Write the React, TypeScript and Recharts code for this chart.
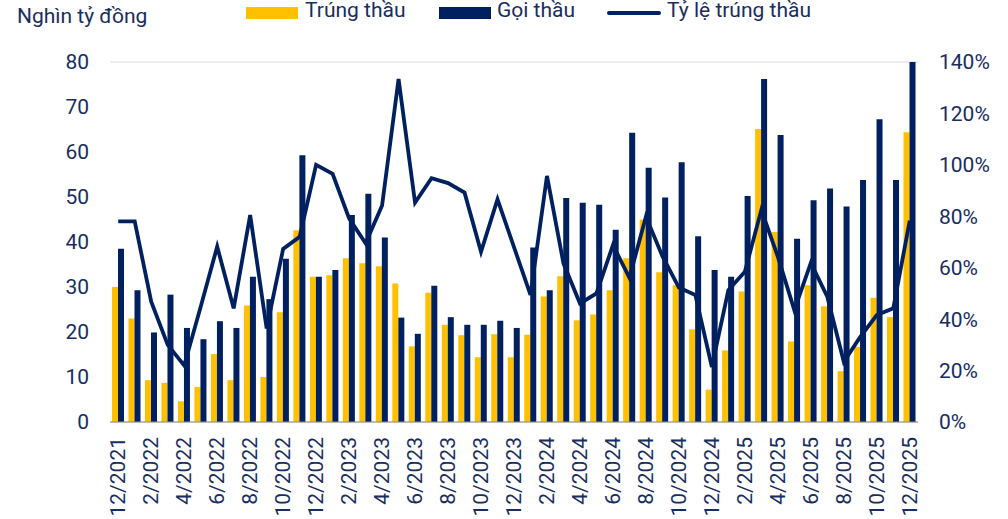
import React from "react"
import {
  ComposedChart,
  Bar,
  Line,
  XAxis,
  YAxis,
  CartesianGrid,
} from "recharts"

const months = [
  "12/2021",
  "1/2022", "2/2022", "3/2022", "4/2022", "5/2022", "6/2022",
  "7/2022", "8/2022", "9/2022", "10/2022", "11/2022", "12/2022",
  "1/2023", "2/2023", "3/2023", "4/2023", "5/2023", "6/2023",
  "7/2023", "8/2023", "9/2023", "10/2023", "11/2023", "12/2023",
  "1/2024", "2/2024", "3/2024", "4/2024", "5/2024", "6/2024",
  "7/2024", "8/2024", "9/2024", "10/2024", "11/2024", "12/2024",
  "1/2025", "2/2025", "3/2025", "4/2025", "5/2025", "6/2025",
  "7/2025", "8/2025", "9/2025", "10/2025", "11/2025", "12/2025",
]

// Trúng thầu (nghìn tỷ đồng)
const trungThau = [
  30.0, 23.0, 9.3, 8.7, 4.6, 7.8, 15.1, 9.3, 25.9, 10.0, 24.4, 42.6, 32.3,
  32.6, 36.4, 35.3, 34.6, 30.8, 16.8, 28.7, 21.6, 19.3, 14.4, 19.5, 14.4,
  19.4, 27.9, 32.4, 22.6, 23.9, 29.3, 36.4, 45.0, 33.3, 30.4, 20.6, 7.2,
  15.9, 29.0, 65.1, 42.2, 17.9, 30.4, 25.7, 11.3, 16.7, 27.6, 23.3, 64.4,
]

// Gọi thầu (nghìn tỷ đồng)
const goiThau = [
  38.5, 29.3, 19.9, 28.3, 20.9, 18.4, 22.4, 20.9, 32.3, 27.3, 36.3, 59.3, 32.3,
  33.8, 46.0, 50.7, 41.0, 23.2, 19.6, 30.3, 23.3, 21.6, 21.6, 22.5, 20.9,
  38.8, 29.3, 49.8, 48.7, 48.3, 42.7, 64.3, 56.5, 49.9, 57.7, 41.3, 33.8,
  32.3, 50.2, 76.2, 63.8, 40.7, 49.3, 51.9, 47.9, 53.8, 67.3, 53.8, 82.0,
]

// Tỷ lệ trúng thầu (%)
const tyLe = [
  78, 78, 46.8, 30, 22, 44.8, 68.2, 44.2, 80.5, 36.4, 67.3, 72, 100,
  96.5, 79.2, 69.5, 84.2, 133.4, 85.3, 94.8, 92.9, 89.2, 66.2, 86.6, 68,
  49.4, 95.7, 61.7, 46.1, 50, 68.8, 56.1, 79.9, 64.5, 52.3, 49.4, 21.4,
  51.3, 58.4, 82.5, 64.3, 43.5, 61.9, 48.7, 23.4, 33.1, 41.6, 44.2, 78.3,
]

const leftTicks = [0, 10, 20, 30, 40, 50, 60, 70, 80]
const rightTicks = [0, 20, 40, 60, 80, 100, 120, 140]

const data = months.map((m, i) => ({
  month: m,
  trung: trungThau[i],
  goi: goiThau[i],
  tyle: tyLe[i],
}))

const YELLOW = "#FFC000"
const NAVY = "#002060"
const TEXT = "#182d60"
const FONT = "Roboto, sans-serif"
const FS = 21

function MonthTick(props: any) {
  const { x, y, payload } = props
  return (
    <text
      x={x}
      y={y}
      transform={`rotate(-90, ${x}, ${y})`}
      textAnchor="end"
      dominantBaseline="central"
      fill={TEXT}
      fontSize={FS}
      fontFamily={FONT}
    >
      {payload.value}
    </text>
  )
}

export default function App() {
  return (
    <div style={{ position: "absolute", left: 0, top: 0, width: 1008, height: 519, background: "#fff", fontFamily: FONT, color: TEXT }}>
      <div style={{ position: "absolute", left: 17, top: 4, fontSize: FS }}>Nghìn tỷ đồng</div>

      {/* legend */}
      <div style={{ position: "absolute", left: 246, top: 7, width: 52, height: 12, background: YELLOW }} />
      <div style={{ position: "absolute", left: 305, top: -2, fontSize: FS }}>Trúng thầu</div>
      <div style={{ position: "absolute", left: 439, top: 7, width: 52, height: 12, background: NAVY }} />
      <div style={{ position: "absolute", left: 497, top: -2, fontSize: FS }}>Gọi thầu</div>
      <div style={{ position: "absolute", left: 607, top: 11, width: 54, height: 4, borderRadius: 2, background: NAVY }} />
      <div style={{ position: "absolute", left: 667, top: -2, fontSize: FS }}>Tỷ lệ trúng thầu</div>

      <ComposedChart
        width={1008}
        height={519}
        data={data}
        margin={{ top: 62, right: 0, left: 0, bottom: 0 }}
        barGap={0}
      >
        <CartesianGrid vertical={false} stroke="#d9d9d9" strokeWidth={1.2} />
        <XAxis
          dataKey="month"
          interval={1}
          tick={<MonthTick />}
          tickLine={false}
          axisLine={{ stroke: "#8c8c8c", strokeWidth: 1.2 }}
          tickSize={0}
          tickMargin={15}
          height={97}
        />
        <YAxis
          yAxisId="left"
          domain={[0, 80]}
          ticks={leftTicks}
          allowDataOverflow
          width={110}
          axisLine={false}
          tickLine={false}
          tickSize={0}
          tickMargin={21}
          tick={{ fill: TEXT, fontSize: FS, fontFamily: FONT }}
        />
        <YAxis
          yAxisId="right"
          orientation="right"
          domain={[0, 140]}
          ticks={rightTicks}
          width={90}
          axisLine={false}
          tickLine={false}
          tickSize={0}
          tickMargin={21}
          tickFormatter={(v) => `${v}%`}
          tick={{ fill: TEXT, fontSize: FS, fontFamily: FONT, textAnchor: "start" }}
        />
        <Bar yAxisId="left" dataKey="trung" name="Trúng thầu" fill={YELLOW} barSize={6} isAnimationActive={false} />
        <Bar yAxisId="left" dataKey="goi" name="Gọi thầu" fill={NAVY} barSize={6} isAnimationActive={false} />
        <Line
          yAxisId="right"
          type="linear"
          dataKey="tyle"
          name="Tỷ lệ trúng thầu"
          stroke={NAVY}
          strokeWidth={3.8}
          dot={false}
          activeDot={false}
          isAnimationActive={false}
        />
      </ComposedChart>
    </div>
  )
}
